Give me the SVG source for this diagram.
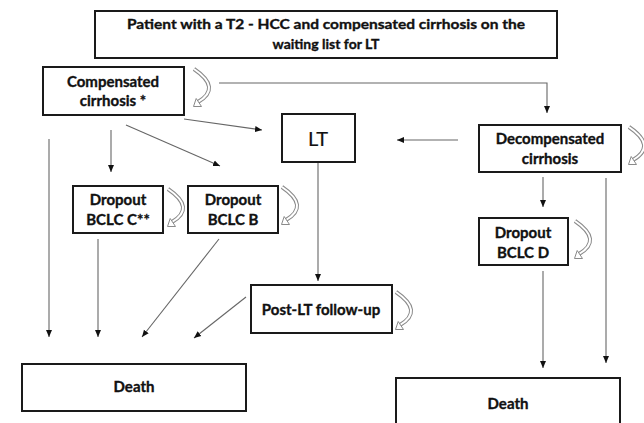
<svg xmlns="http://www.w3.org/2000/svg" width="644" height="423" viewBox="0 0 644 423">
<style>
.box{fill:#fff;stroke:#1a1a1a;stroke-width:2}
.t{font-family:Lato,"Open Sans","Liberation Sans",sans-serif;font-weight:bold;font-size:15px;fill:#111;stroke:#111;stroke-width:0.35;text-anchor:middle}
.top{font-size:14px}
.lt{font-size:20px;font-weight:normal;stroke-width:0.2}
.c{fill:none;stroke:#666;stroke-width:1.1}
.a{marker-end:url(#ah)}
</style>
<defs>
<marker id="ah" markerUnits="userSpaceOnUse" markerWidth="8" markerHeight="8" viewBox="0 0 8 8" refX="7" refY="4" orient="auto">
<path d="M0,1 L7,4 L0,7 Z" fill="#111"/>
</marker>
<g id="loop">
<path d="M0,0 Q28,19 4,33" fill="none" stroke="#8a8a8a" stroke-width="4"/>
<path d="M0,0 Q28,19 4,33" fill="none" stroke="#fff" stroke-width="2"/>
<path d="M-0.5,37.5 L7.5,37.5 L2.2,29.5 Z" fill="#fff" stroke="#8a8a8a" stroke-width="1"/>
</g>
</defs>
<g id="connectors">
<polyline class="c a" points="219,83 547,83 547,113"/>
<line class="c a" x1="184" y1="119" x2="262" y2="130"/>
<line class="c a" x1="126" y1="125" x2="220" y2="166"/>
<line class="c a" x1="111" y1="130" x2="111" y2="172"/>
<line class="c a" x1="49" y1="139" x2="49" y2="337"/>
<line class="c a" x1="98" y1="239" x2="98" y2="337"/>
<line class="c a" x1="219" y1="239" x2="142" y2="337"/>
<line class="c a" x1="246" y1="297" x2="194" y2="338"/>
<line class="c a" x1="318" y1="162" x2="318" y2="281"/>
<line class="c a" x1="458" y1="140" x2="397" y2="140"/>
<line class="c a" x1="543" y1="177" x2="543" y2="207"/>
<line class="c a" x1="606" y1="178" x2="606" y2="363"/>
<line class="c a" x1="543" y1="271" x2="543" y2="368"/>
</g>
<g id="loops">
<use href="#loop" x="194" y="69"/>
<use href="#loop" x="629" y="127"/>
<use href="#loop" x="168" y="189"/>
<use href="#loop" x="282" y="187"/>
<use href="#loop" x="575" y="221"/>
<use href="#loop" x="396" y="292"/>
</g>
<g id="top">
<rect class="box" x="95" y="11" width="462" height="47"/>
<text class="t top" x="326" y="29" textLength="398" lengthAdjust="spacingAndGlyphs">Patient  with a T2 - HCC  and compensated cirrhosis on the</text>
<text class="t top" x="326" y="49">waiting list for LT</text>
</g>
<g id="compensated">
<rect class="box" x="43" y="67" width="141" height="48"/>
<text class="t" x="113" y="87">Compensated</text>
<text class="t" x="113" y="106">cirrhosis *</text>
</g>
<g id="lt">
<rect class="box" x="282" y="114" width="73" height="48"/>
<text class="t lt" x="318" y="146">LT</text>
</g>
<g id="decompensated">
<rect class="box" x="479" y="125" width="142" height="47"/>
<text class="t" x="550" y="144">Decompensated</text>
<text class="t" x="550" y="164">cirrhosis</text>
</g>
<g id="dropoutC">
<rect class="box" x="73" y="186" width="90" height="47"/>
<text class="t" x="118" y="205">Dropout</text>
<text class="t" x="118" y="225">BCLC C**</text>
</g>
<g id="dropoutB">
<rect class="box" x="188" y="186" width="90" height="47"/>
<text class="t" x="233" y="205">Dropout</text>
<text class="t" x="233" y="225">BCLC B</text>
</g>
<g id="dropoutD">
<rect class="box" x="479" y="218" width="89" height="47"/>
<text class="t" x="523" y="238">Dropout</text>
<text class="t" x="523" y="258">BCLC D</text>
</g>
<g id="postlt">
<rect class="box" x="251" y="285" width="141" height="48"/>
<text class="t" x="321" y="315">Post-LT follow-up</text>
</g>
<g id="death1">
<rect class="box" x="22" y="364" width="224" height="47"/>
<text class="t" x="134" y="392">Death</text>
</g>
<g id="death2">
<rect class="box" x="396" y="378" width="224" height="50"/>
<text class="t" x="508" y="409">Death</text>
</g>
</svg>
